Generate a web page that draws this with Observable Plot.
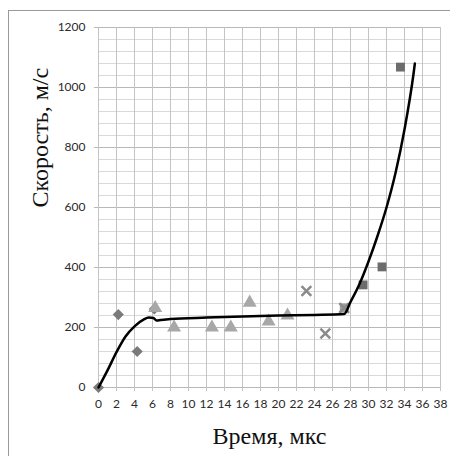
<!DOCTYPE html>
<html>
<head>
<meta charset="utf-8">
<script src="https://cdn.jsdelivr.net/npm/d3@7"></script>
<script src="https://cdn.jsdelivr.net/npm/@observablehq/plot@0.6"></script>
<style>
  html, body { margin: 0; padding: 0; background: #fff; overflow: hidden; }
  #wrap { position: relative; width: 450px; height: 456px; }
  #border { position: absolute; left: 8px; top: 10px; width: 460px; height: 470px; border: 1.5px solid #9a9a9a; box-sizing: border-box; pointer-events: none; }
</style>
</head>
<body>
<div id="wrap"><div id="border"></div></div>
<script>
// --- data ---
const xTicks = [0,2,4,6,8,10,12,14,16,18,20,22,24,26,28,30,32,34,36,38];
const yTicks = [0,200,400,600,800,1000,1200];

const diamondX = [0, 2.2, 4.3, 6.2];
const diamondY = [0, 243, 120, 262];

const triangleX = [6.3, 8.4, 12.6, 14.7, 16.8, 18.9, 21.0];
const triangleY = [265, 200, 200, 200, 283, 220, 240];

const crossX = [23.1, 25.2, 27.3];
const crossY = [322, 180, 265];

const squareX = [27.3, 29.4, 31.5, 33.55];
const squareY = [265, 342, 402, 1068];

const curveX = [0, 1, 2, 3, 4, 5, 5.6, 6.1, 6.45, 6.9, 8, 12, 16, 20, 24, 27.3, 28, 29, 30, 31, 32, 33, 34, 35, 35.15];
const curveY = [0, 57, 118, 170, 204, 226, 233, 232, 223, 225, 228, 233, 237, 240, 242, 245, 285, 345, 420, 505, 600, 715, 860, 1045, 1080];

const toRows = (xs, ys) => xs.map((x, i) => ({x, y: ys[i]}));
const diamonds = toRows(diamondX, diamondY);
const triangles = toRows(triangleX, triangleY);
const crosses = toRows(crossX, crossY);
const squares = toRows(squareX, squareY);
const curve = toRows(curveX, curveY);

const minorY = d3.range(0, 1201, 40).filter(v => v % 200 !== 0);

const tickFont = "Lato, 'Liberation Sans', sans-serif";
const titleFont = "'Liberation Serif', 'Times New Roman', serif";

const chart = Plot.plot({
  width: 450,
  height: 456,
  marginLeft: 98,
  marginRight: 10,
  marginTop: 27,
  marginBottom: 69,
  style: {background: "transparent", color: "#333"},
  x: {domain: [0, 38]},
  y: {domain: [0, 1200]},
  marks: [
    Plot.gridY(minorY, {stroke: "#d9d9d9", strokeOpacity: 1, strokeWidth: 1}),
    Plot.gridY(yTicks, {stroke: "#b8b8b8", strokeOpacity: 1, strokeWidth: 1}),
    Plot.gridX(xTicks, {stroke: "#c4c4c4", strokeOpacity: 1, strokeWidth: 1}),
    Plot.axisX({ticks: xTicks, tickFormat: (d) => String(d), tickSize: 4, tickPadding: 8, stroke: "#c4c4c4", fill: "#2a2a2a", fontSize: 12, fontFamily: tickFont, label: null}),
    Plot.axisY({ticks: yTicks, tickFormat: (d) => String(d), tickSize: 4, tickPadding: 9, stroke: "#b8b8b8", fill: "#2a2a2a", fontSize: 12, fontFamily: tickFont, label: null}),
    Plot.dot(diamonds, {x: "x", y: "y", symbol: "diamond2", r: 5, fill: "#7a7a7a", stroke: "none"}),
    Plot.dot(triangles, {x: "x", y: "y", symbol: "triangle", r: 5.2, fill: "#a8a8a8", stroke: "none"}),
    Plot.dot(squares, {x: "x", y: "y", symbol: "square", r: 5, fill: "#6c6c6c", fillOpacity: (d) => d.x < 28 ? 0.65 : 1, stroke: "none"}),
    Plot.dot(crosses, {x: "x", y: "y", symbol: "times", r: 4.5, stroke: "#8a8a8a", strokeWidth: 2.5}),
    Plot.line(curve, {x: "x", y: "y", curve: "monotone-x", stroke: "#000", strokeWidth: 2.5}),
    Plot.text(["Время, мкс"], {frameAnchor: "bottom", lineAnchor: "bottom", dy: 56, fontSize: 24, fontFamily: titleFont, fill: "#111"}),
    Plot.text(["Скорость, м/с"], {frameAnchor: "left", lineAnchor: "bottom", rotate: -90, dx: -51, fontSize: 24, fontFamily: titleFont, fill: "#111"})
  ]
});
document.getElementById("wrap").prepend(chart);
chart.style.position = "absolute";
chart.style.left = "0";
chart.style.top = "0";
</script>
</body>
</html>
